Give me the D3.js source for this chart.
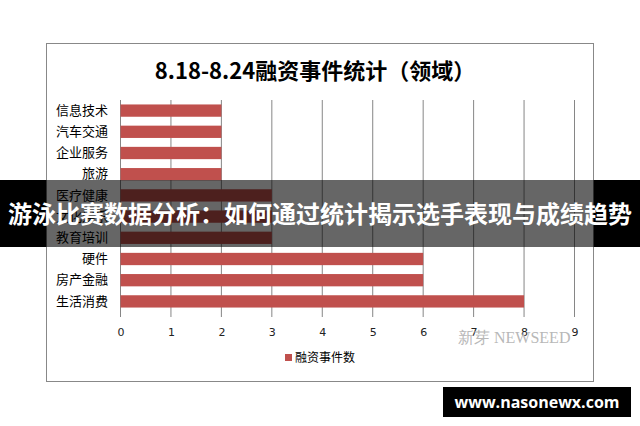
<!DOCTYPE html>
<html><head><meta charset="utf-8">
<script src="https://cdn.jsdelivr.net/npm/d3@7"></script>
<style>body{margin:0;background:#fff}svg{display:block}</style>
</head><body>
<svg id="c" width="640" height="426"></svg>
<script>
const categories = ["信息技术","汽车交通","企业服务","旅游","医疗健康","文化娱乐","教育培训","硬件","房产金融","生活消费"];
const values = [2,2,2,2,3,3,3,6,6,8];
const xTicks = [0,1,2,3,4,5,6,7,8,9];
const title = "8.18-8.24融资事件统计（领域）";
const seriesName = "融资事件数";
const banner = "游泳比赛数据分析：如何通过统计揭示选手表现与成绩趋势";
const site = "www.nasonewx.com";

const svg = d3.select("#c");
const font = "'Noto Sans CJK SC','Noto Sans',sans-serif";
const frame = {x:46.5, y:43.5, w:547, h:338};

svg.append("rect").attr("x",frame.x).attr("y",frame.y).attr("width",frame.w).attr("height",frame.h)
  .attr("fill","#fff").attr("stroke","#888").attr("stroke-width",1);

svg.append("text").attr("x",315).attr("y",79).attr("text-anchor","middle")
  .attr("font-family",font).attr("font-size",22).attr("font-weight","bold").attr("fill","#000").text(title);

const x = d3.scaleLinear().domain([0,9]).range([120.5,574.5]);
const y = d3.scaleBand().domain(categories).range([100,312]).paddingInner(0.42).paddingOuter(0.21);

function drawChart(g){
  g.selectAll("line.grid").data(xTicks).join("line").attr("class","grid")
    .attr("x1",d=>x(d)).attr("x2",d=>x(d)).attr("y1",100).attr("y2",317)
    .attr("stroke","#868686").attr("stroke-width",1);
  g.selectAll("rect.bar").data(categories).join("rect").attr("class","bar")
    .attr("x",x(0)).attr("y",d=>y(d)).attr("height",y.bandwidth())
    .attr("width",(d,i)=>x(values[i])-x(0)).attr("fill","#C0504D");
}
drawChart(svg.append("g"));

const xa = svg.append("g").attr("transform","translate(0,312)")
  .call(d3.axisBottom(x).tickValues(xTicks).tickSize(0).tickPadding(16).tickFormat(d3.format("d")));
xa.select(".domain").remove();
xa.selectAll("text").attr("font-family","'DejaVu Sans',sans-serif").attr("font-size",11).attr("fill","#222");

function drawYAxis(g){
  const ya = g.attr("transform","translate(108,0)").call(d3.axisLeft(y).tickSize(0).tickPadding(0));
  ya.select(".domain").remove();
  ya.selectAll("text").attr("font-family",font).attr("font-size",13).attr("fill","#000");
}
drawYAxis(svg.append("g"));

// legend
svg.append("rect").attr("x",285).attr("y",354).attr("width",7).attr("height",7).attr("fill","#C0504D");
svg.append("text").attr("x",295).attr("y",362).attr("font-family",font).attr("font-size",12).attr("fill","#000").text(seriesName);

// watermark
svg.append("text").attr("x",458).attr("y",343).attr("font-family","'Liberation Serif',serif").attr("font-size",16)
  .attr("fill","#b8b8b8").text("新芽 NEWSEED");

// banner
svg.append("rect").attr("x",0).attr("y",180).attr("width",640).attr("height",67).attr("fill","#000");
svg.append("clipPath").attr("id","bc").append("rect").attr("x",frame.x).attr("y",180).attr("width",frame.w).attr("height",67);
const gc = svg.append("g").attr("clip-path","url(#bc)");
gc.append("rect").attr("x",frame.x).attr("y",180).attr("width",frame.w).attr("height",67).attr("fill","#fff");
drawChart(gc.append("g"));
drawYAxis(gc.append("g"));
svg.append("rect").attr("x",frame.x).attr("y",180).attr("width",frame.w).attr("height",67).attr("fill","#000").attr("opacity",0.6);

svg.append("text").attr("x",320).attr("y",223).attr("text-anchor","middle")
  .attr("font-family",font).attr("font-size",24).attr("font-weight","bold").attr("fill","#fff").text(banner);

// site box
svg.append("rect").attr("x",443).attr("y",387).attr("width",188).attr("height",30).attr("fill","#000");
svg.append("text").attr("x",537).attr("y",408).attr("text-anchor","middle")
  .attr("font-family","'Open Sans','DejaVu Sans',sans-serif").attr("font-size",16).attr("font-weight","bold").attr("fill","#fff").text(site);
</script>
</body></html>
